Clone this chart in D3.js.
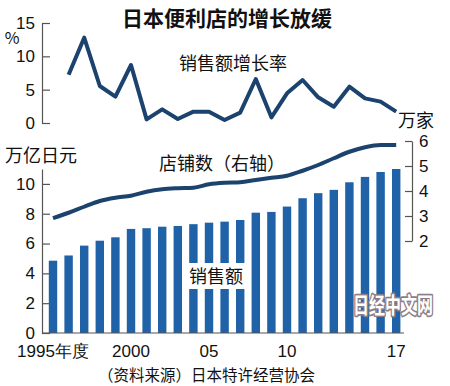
<!DOCTYPE html>
<html lang="zh">
<head>
    <meta charset="utf-8">
    <title>日本便利店的增长放缓</title>
    <script src="https://d3js.org/d3.v7.min.js"></script>
    <style>
        body { margin: 0; background: #fff; }
        svg text { font-family: "Noto Sans CJK SC", "Noto Sans", sans-serif; fill: #111; }
        .num text { font-family: "Liberation Sans Narrow", "Liberation Sans", sans-serif; font-size: 17px; }
        .axis path, .axis line { stroke: #555; stroke-width: 1.2; }
    </style>
</head>
<body>
<svg id="chart"></svg>
<script>
    // 年度 1995-2017
    var years = [1995, 1996, 1997, 1998, 1999, 2000, 2001, 2002, 2003, 2004, 2005, 2006,
        2007, 2008, 2009, 2010, 2011, 2012, 2013, 2014, 2015, 2016, 2017];
    // 销售额（万亿日元）
    var sales = [4.85, 5.2, 5.86, 6.19, 6.42, 6.98, 7.03, 7.13, 7.18, 7.3, 7.4, 7.47,
        7.58, 8.07, 8.12, 8.48, 9.04, 9.38, 9.6, 10.11, 10.47, 10.8, 11.0];
    // 店铺数（万家）
    var stores = [2.91, 3.13, 3.37, 3.6, 3.73, 3.81, 3.97, 4.07, 4.11, 4.13, 4.27, 4.33,
        4.35, 4.44, 4.53, 4.61, 4.81, 5.04, 5.31, 5.57, 5.75, 5.84, 5.84];
    // 销售额增长率（%），1996年起
    var growthYears = years.slice(1);
    var growth = [7.25, 12.8, 5.55, 3.95, 8.7, 0.55, 2.05, 0.6, 1.7, 1.7, 0.45, 1.55,
        6.6, 0.85, 4.45, 6.45, 3.85, 2.45, 5.45, 3.7, 3.2, 1.7];

    var xLabels = {1995: "1995年度", 2000: "2000", 2005: "05", 2010: "10", 2017: "17"};
    var growthTicks = [0, 5, 10, 15];
    var salesTicks = [0, 2, 4, 6, 8, 10];
    var storeTicks = [2, 3, 4, 5, 6];

    var width = 450, height = 386;
    var navy = "#1b436e", blue = "#2062a8";

    var svg = d3.select("#chart").attr("width", width).attr("height", height);

    var x = d3.scaleBand().domain(years).range([45.2, 404])
        .paddingInner(0.46).paddingOuter(0.23);
    function cx(d) { return x(d) + x.bandwidth() / 2; }

    var yG = d3.scaleLinear().domain([0, 15]).range([123, 23]);
    var yS = d3.scaleLinear().domain([0, 11]).range([333, 169]);
    var yN = d3.scaleLinear().domain([2, 6]).range([241, 141]);

    // title
    svg.append("text").attr("x", 227).attr("y", 26).attr("text-anchor", "middle")
        .style("font-size", "21px").style("font-weight", "bold")
        .text("日本便利店的增长放缓");

    // ---- top chart: growth rate
    svg.append("g").attr("class", "axis num")
        .attr("transform", "translate(42,0)")
        .call(d3.axisLeft(yG).tickValues(growthTicks).tickFormat(d3.format("d"))
            .tickSizeInner(-8).tickSizeOuter(0).tickPadding(7));
    svg.append("text").attr("x", 12).attr("y", 44).attr("text-anchor", "middle")
        .style("font-size", "16px").text("%");

    svg.append("path").datum(growth)
        .attr("fill", "none").attr("stroke", navy).attr("stroke-width", 4)
        .attr("stroke-linejoin", "round")
        .attr("d", d3.line().x(function (d, i) { return cx(growthYears[i]); }).y(function (d) { return yG(d); }));

    svg.append("text").attr("x", 233).attr("y", 70).attr("text-anchor", "middle")
        .style("font-size", "18px").text("销售额增长率");
    svg.append("text").attr("x", 416).attr("y", 127).attr("text-anchor", "middle")
        .style("font-size", "18px").text("万家");

    // ---- bottom chart: sales bars + store line
    svg.selectAll("rect.bar").data(sales).enter().append("rect")
        .attr("class", "bar")
        .attr("x", function (d, i) { return x(years[i]); })
        .attr("width", x.bandwidth())
        .attr("y", function (d) { return yS(d); })
        .attr("height", function (d) { return yS(0) - yS(d); })
        .attr("fill", blue);

    svg.append("g").attr("class", "axis num")
        .attr("transform", "translate(42,0)")
        .call(d3.axisLeft(yS).tickValues(salesTicks).tickFormat(d3.format("d"))
            .tickSizeInner(-8).tickSizeOuter(0).tickPadding(7));

    svg.append("g").attr("class", "axis num")
        .attr("transform", "translate(412,0)")
        .call(d3.axisRight(yN).tickValues(storeTicks).tickFormat(d3.format("d"))
            .tickSizeInner(-7).tickSizeOuter(0).tickPadding(7));

    // baseline
    svg.append("line").attr("x1", 42).attr("x2", 404).attr("y1", yS(0)).attr("y2", yS(0))
        .attr("stroke", "#555").attr("stroke-width", 1.2);

    // x labels
    var xa = svg.append("g").attr("class", "num");
    years.filter(function (d) { return xLabels[d]; }).forEach(function (d) {
        xa.append("text").attr("x", cx(d)).attr("y", 357).attr("text-anchor", "middle")
            .style("font-size", "17px").text(xLabels[d]);
    });

    svg.append("path").datum(stores)
        .attr("fill", "none").attr("stroke", navy).attr("stroke-width", 4)
        .attr("stroke-linejoin", "round")
        .attr("d", d3.line().curve(d3.curveMonotoneX)
            .x(function (d, i) { return cx(years[i]); }).y(function (d) { return yN(d); }));

    svg.append("text").attr("x", 5).attr("y", 162).style("font-size", "18px").text("万亿日元");
    svg.append("text").attr("x", 159).attr("y", 170).style("font-size", "18px").text("店铺数（右轴）");

    // label in white box
    svg.append("rect").attr("x", 187).attr("y", 263).attr("width", 58).attr("height", 26).attr("fill", "#fff");
    svg.append("text").attr("x", 216).attr("y", 283).attr("text-anchor", "middle")
        .style("font-size", "18px").text("销售额");

    // watermark
    svg.append("text").attr("transform", "translate(353,313) scale(1,1.35)")
        .style("font-size", "16px").style("font-weight", "bold")
        .style("fill", "#fff").style("stroke", "#8c7e86").style("stroke-width", 2.5)
        .style("paint-order", "stroke").style("stroke-linejoin", "round")
        .text("日经中文网");

    // source
    svg.append("text").attr("x", 98).attr("y", 381).style("font-size", "15.5px")
        .text("（资料来源）日本特许经营协会");
</script>
</body>
</html>
